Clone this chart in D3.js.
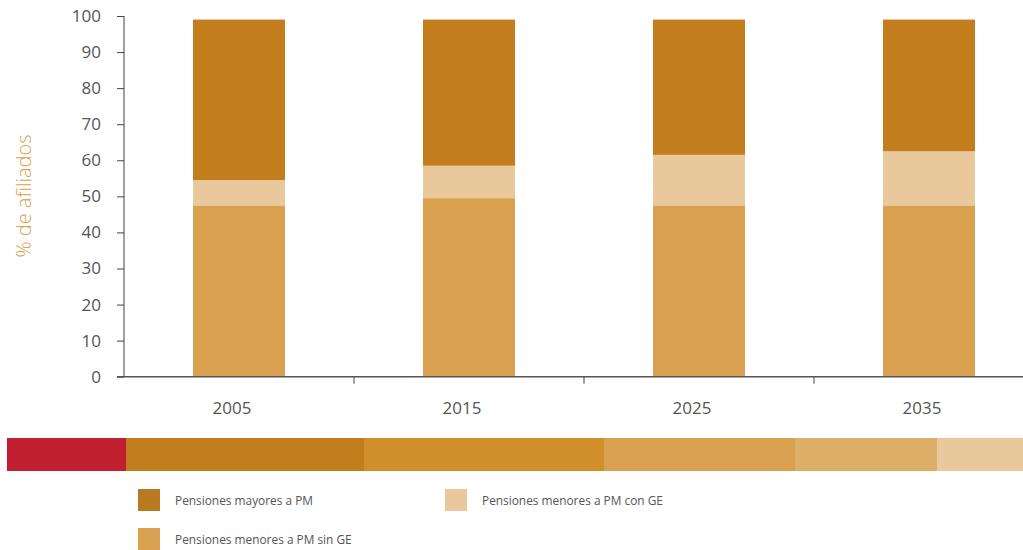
<!DOCTYPE html>
<html>
<head>
<meta charset="utf-8">
<script src="https://cdn.jsdelivr.net/npm/d3@7"></script>
<style>
  body { margin: 0; background: #fff; }
  svg { display: block; }
  .tick text { font-family: "Open Sans", sans-serif; fill: #555; }
</style>
</head>
<body>
<div id="chart"></div>
<script>
// Chart data
const years = ["2005", "2015", "2025", "2035"];
const sinGE = [47.5, 49.5, 47.5, 47.5];      // Pensiones menores a PM sin GE
const conGE = [7, 9, 14, 15];                 // Pensiones menores a PM con GE
const mayores = [44.5, 40.5, 37.5, 36.5];     // Pensiones mayores a PM
const yTicks = [0, 10, 20, 30, 40, 50, 60, 70, 80, 90, 100];

// Decorative colour strip under the chart
const stripColors = ["#c01f30", "#c27d1c", "#d08f2a", "#d8a04f", "#dcae68", "#e9c99c"];
const stripStops = [7, 126, 364, 604, 795, 937, 1023];

const legendItems = [
    { label: "Pensiones mayores a PM", color: "#b87a20" },
    { label: "Pensiones menores a PM con GE", color: "#e9c99c" },
    { label: "Pensiones menores a PM sin GE", color: "#d8a04f" }
];

const width = 1023, height = 550;
const svg = d3.select("#chart").append("svg")
    .attr("width", width)
    .attr("height", height);

const x = d3.scaleBand().domain(years).range([124, 1044]).paddingInner(0.6).paddingOuter(0.3);
const y = d3.scaleLinear().domain([0, 100]).range([376.7, 16]);

// Stack the series
const rows = years.map((yr, i) => ({ year: yr, sinGE: sinGE[i], conGE: conGE[i], mayores: mayores[i] }));
const stack = d3.stack().keys(["sinGE", "conGE", "mayores"])(rows);
const color = d3.scaleOrdinal()
    .domain(["sinGE", "conGE", "mayores"])
    .range(["#d8a04f", "#e9c99c", "#c27d1c"]);

svg.append("g")
    .selectAll("g")
    .data(stack)
    .join("g")
    .attr("fill", d => color(d.key))
    .selectAll("rect")
    .data(d => d)
    .join("rect")
    .attr("x", d => x(d.data.year))
    .attr("width", x.bandwidth())
    .attr("y", d => y(d[1]))
    .attr("height", d => y(d[0]) - y(d[1]));

// Y axis
const yAxis = svg.append("g")
    .attr("transform", "translate(124,0)")
    .call(d3.axisLeft(y).tickValues(yTicks).tickSize(7).tickPadding(16));
yAxis.select(".domain").attr("stroke", "#444").attr("d", `M0,${y(100)}V${y(0)}`);
yAxis.selectAll(".tick line").attr("stroke", "#444");
yAxis.selectAll(".tick text").style("font-size", "17px");

// X axis: baseline with tick marks between categories
const xAxis = svg.append("g").attr("transform", `translate(0,${y(0)})`);
xAxis.append("line")
    .attr("x1", 117).attr("x2", width)
    .attr("stroke", "#555").attr("stroke-width", 1.5);
xAxis.selectAll(".sep")
    .data(years.slice(1))
    .join("line")
    .attr("class", "sep")
    .attr("x1", d => x(d) - x.step() * x.paddingInner() / 2)
    .attr("x2", d => x(d) - x.step() * x.paddingInner() / 2)
    .attr("y1", 0).attr("y2", 7)
    .attr("stroke", "#444");
xAxis.selectAll(".lbl")
    .data(years)
    .join("text")
    .attr("class", "lbl")
    .attr("x", d => x(d) + x.bandwidth() / 2 - 7)
    .attr("y", 37)
    .attr("text-anchor", "middle")
    .style("font-family", '"Open Sans", sans-serif')
    .style("font-size", "17px")
    .attr("fill", "#555")
    .text(d => d);

// Y axis title
svg.append("text")
    .attr("transform", "translate(31,196) rotate(-90)")
    .attr("text-anchor", "middle")
    .style("font-family", '"Open Sans", sans-serif')
    .style("font-size", "20px")
    .style("font-weight", 300)
    .attr("fill", "#d8a04f")
    .text("% de afiliados");

// Colour strip
svg.append("g")
    .selectAll("rect")
    .data(stripColors)
    .join("rect")
    .attr("x", (d, i) => stripStops[i])
    .attr("width", (d, i) => stripStops[i + 1] - stripStops[i])
    .attr("y", 438)
    .attr("height", 33)
    .attr("fill", d => d);

// Legend
const legendPos = [[138, 489], [445, 489], [138, 528]];
const legend = svg.append("g")
    .selectAll("g")
    .data(legendItems)
    .join("g")
    .attr("transform", (d, i) => `translate(${legendPos[i][0]},${legendPos[i][1]})`);
legend.append("rect")
    .attr("width", 22).attr("height", 22)
    .attr("fill", d => d.color);
// narrow the text a bit, the original uses a condensed face
legend.append("text")
    .attr("transform", "translate(37,16) scale(0.88,1)")
    .style("font-family", '"Open Sans", sans-serif')
    .style("font-size", "13.5px")
    .attr("fill", "#555")
    .text(d => d.label);
</script>
</body>
</html>
